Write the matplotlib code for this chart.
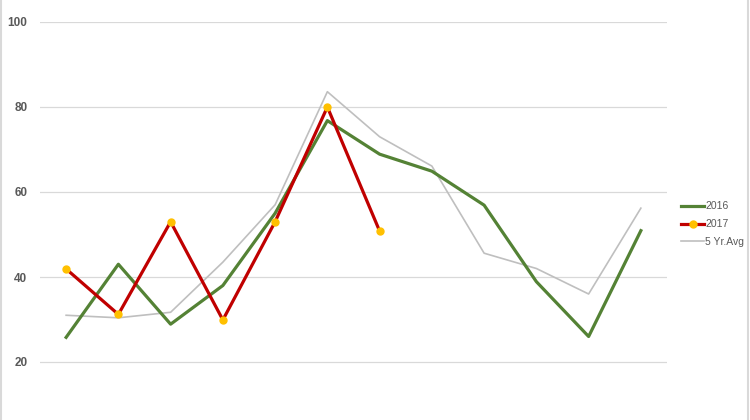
import matplotlib
matplotlib.use("Agg")
import matplotlib.pyplot as plt
from matplotlib.lines import Line2D

plt.rcParams['font.family'] = ['Liberation Sans', 'DejaVu Sans']

months = list(range(12))
s2016 = [25.8, 43, 28.9, 38, 55, 76.8, 68.9, 64.9, 56.9, 38.9, 26, 50.9]
s2017 = [41.9, 31.2, 53, 29.9, 53, 80, 50.8]
s5yr = [31, 30.4, 31.7, 43.5, 57, 83.6, 73, 66.1, 45.6, 42, 36, 56.2]
yticks = [20, 40, 60, 80, 100]
labels = ['2016', '2017', '5 Yr.Avg']

fig = plt.figure(figsize=(7.5, 4.2), dpi=100)
ax = fig.add_axes([40/750, 0.0, 627/750, 398/420])

ax.set_xlim(-0.5, 11.5)
ax.set_ylim(20 - 58/4.25, 100)
ax.set_yticks(yticks)
ax.set_xticks([])
ax.grid(axis='y', color='#D9D9D9', linewidth=0.9)
ax.set_axisbelow(True)
for s in ax.spines.values():
    s.set_visible(False)
ax.tick_params(axis='y', length=0, pad=9, labelsize=8.5, labelcolor='#595959')
for t in ax.get_yticklabels():
    t.set_fontweight('bold')

ax.plot(months, s5yr, color='#BFBFBF', linewidth=1.2, zorder=2)
ax.plot(months, s2016, color='#548235', linewidth=2.3, zorder=3)
ax.plot(months[:len(s2017)], s2017, color='#C00000', linewidth=2.3,
        marker='o', markersize=5, markerfacecolor='#FFC000',
        markeredgecolor='#FFC000', zorder=4)

handles = [
    Line2D([], [], color='#548235', linewidth=2.3),
    Line2D([], [], color='#C00000', linewidth=2.3, marker='o', markersize=5,
           markerfacecolor='#FFC000', markeredgecolor='#FFC000'),
    Line2D([], [], color='#BFBFBF', linewidth=1.2),
]
fig.legend(handles, labels, loc='upper left', bbox_to_anchor=(672/750, 1 - 192/420),
           frameon=False, fontsize=7.5, handlelength=2.2, handletextpad=0.1,
           labelspacing=0.75, labelcolor='#595959')

# outer frame lines
fig.add_artist(Line2D([1/750, 1/750], [0, 1], color='#D9D9D9', linewidth=1.5,
                      transform=fig.transFigure))
fig.add_artist(Line2D([748/750, 748/750], [0, 1], color='#D9D9D9', linewidth=1.5,
                      transform=fig.transFigure))

fig.savefig('out.png', dpi=100)
